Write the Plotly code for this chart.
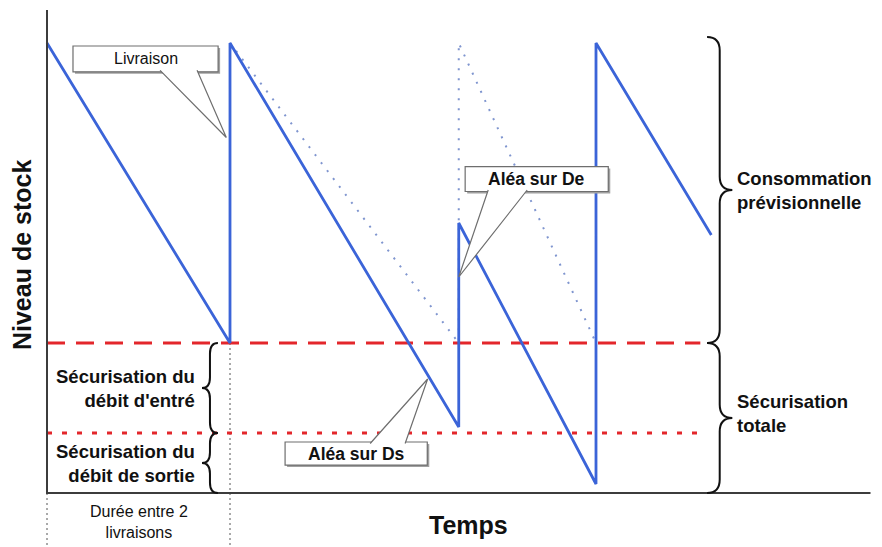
import plotly.graph_objects as go

# --- données (temps en unités arbitraires, niveau de stock en unités) ---
temps_stock = [0, 10, 10, 22.5, 22.5, 30, 30, 36.3]
niveau_stock = [15, 5, 15, 2.2, 9, 0.3, 15, 8.6]

temps_prevu = [10, 22.5, 22.5, 30]
niveau_prevu = [15, 5, 15, 5]

securisation_totale = 5
securisation_sortie = 2
fin_seuils = 35.7

livraisons = [0, 10]
niveau_livraisons = [0, 5]

fin_axe_temps = 45
fin_axe_stock = 16.1

# pixel scale of the drawing
PX_X = 18.3
PX_Y = 30.0
W, H = 882, 547
X0_PX, Y0_PX = 47, 493
x_range = [-X0_PX / PX_X, (W - X0_PX) / PX_X]
y_range = [-(H - Y0_PX) / PX_Y, Y0_PX / PX_Y]
y_bas = y_range[0]

BLUE = "#3b64d8"
RED = "#e3262b"
AXIS = "#3c3c3c"
INK = "#111111"
FONT = "Liberation Sans, Arial, sans-serif"

fig = go.Figure()

# guides under the time axis
for t, v in zip(livraisons, niveau_livraisons):
    fig.add_trace(go.Scatter(
        x=[t, t], y=[v, y_bas], mode="lines",
        line={"color": "#555555", "width": 1, "dash": "2px,3px"},
        hoverinfo="skip",
    ))

# security thresholds
fig.add_trace(go.Scatter(
    x=[0, fin_seuils], y=[securisation_totale] * 2, mode="lines",
    line={"color": RED, "width": 3, "dash": "18px,11px"},
))
fig.add_trace(go.Scatter(
    x=[0, fin_seuils], y=[securisation_sortie] * 2, mode="lines",
    line={"color": RED, "width": 3, "dash": "5px,10px"},
))

# planned consumption (dotted)
fig.add_trace(go.Scatter(
    x=temps_prevu, y=niveau_prevu, mode="lines",
    line={"color": "#7f95cf", "width": 2, "dash": "2px,8px"},
))

# real stock level
fig.add_trace(go.Scatter(
    x=temps_stock, y=niveau_stock, mode="lines",
    line={"color": BLUE, "width": 2.8},
))

# axes
fig.add_trace(go.Scatter(
    x=[0, 0, fin_axe_temps], y=[fin_axe_stock, 0, 0], mode="lines",
    line={"color": AXIS, "width": 2},
))


def brace_path(x_end, x_tip, y0, y1, r):
    xs = (x_end + x_tip) / 2
    ym = (y0 + y1) / 2
    return (
        f"M {x_end},{y0} Q {xs},{y0} {xs},{y0 + r} L {xs},{ym - r} "
        f"Q {xs},{ym} {x_tip},{ym} Q {xs},{ym} {xs},{ym + r} "
        f"L {xs},{y1 - r} Q {xs},{y1} {x_end},{y1}"
    )


shapes = []
brace_line = {"color": INK, "width": 2}
# left braces
shapes.append(dict(type="path", xref="x", yref="y", line=brace_line,
                   path=brace_path(9.34, 8.47, securisation_sortie, securisation_totale, 0.35)))
shapes.append(dict(type="path", xref="x", yref="y", line=brace_line,
                   path=brace_path(9.34, 8.47, 0, securisation_sortie, 0.35)))
# right braces
shapes.append(dict(type="path", xref="x", yref="y", line=brace_line,
                   path=brace_path(36.07, 37.45, securisation_totale, 15.2, 0.45)))
shapes.append(dict(type="path", xref="x", yref="y", line=brace_line,
                   path=brace_path(36.07, 37.45, 0, securisation_totale, 0.45)))

callouts = [
    {"text": "Livraison", "bold": False, "box": (1.42, 9.35, 14.04, 14.9),
     "base": (6.18, 8.2, 14.04), "tip": (9.8, 11.85)},
    {"text": "Aléa sur De", "bold": True, "box": (22.85, 30.67, 10.05, 10.88),
     "base": (24.11, 26.24, 10.05), "tip": (22.5, 7.2)},
    {"text": "Aléa sur Ds", "bold": True, "box": (13.01, 20.78, 0.93, 1.7),
     "base": (17.66, 19.57, 1.7), "tip": (20.8, 3.8)},
]

annotations = []
dx, dy = 2 / PX_X, 2 / PX_Y
for c in callouts:
    x0, x1, y0, y1 = c["box"]
    xa, xb, yb = c["base"]
    xt, yt = c["tip"]
    shapes.append(dict(type="rect", xref="x", yref="y", x0=x0 + dx, x1=x1 + dx,
                       y0=y0 - dy, y1=y1 - dy, fillcolor="#a0a0a0", line={"width": 0}))
    shapes.append(dict(type="rect", xref="x", yref="y", x0=x0, x1=x1, y0=y0, y1=y1,
                       fillcolor="white", line={"color": "#6e6e6e", "width": 1.2}))
    inside = 1.5 / PX_Y if yt < yb else -1.5 / PX_Y
    shapes.append(dict(type="path", xref="x", yref="y", fillcolor="white",
                       line={"color": "#6e6e6e", "width": 1.2},
                       path=f"M {xa},{yb + inside} L {xt},{yt} L {xb},{yb + inside}"))
    label = f"<b>{c['text']}</b>" if c["bold"] else c["text"]
    annotations.append(dict(x=(x0 + x1) / 2, y=(y0 + y1) / 2, xref="x", yref="y",
                            text=label, showarrow=False,
                            font={"size": 16 if not c["bold"] else 17.5, "color": INK}))

text_font = {"family": FONT, "size": 18.5, "color": INK}
annotations += [
    dict(x=-1.37, y=7.93, text="<b>Niveau de stock</b>", textangle=-90,
         font={"family": FONT, "size": 25, "color": INK}),
    dict(x=23.05, y=-1.07, text="<b>Temps</b>",
         font={"family": FONT, "size": 25, "color": INK}),
    dict(x=5, y=-0.97, text="Durée entre 2<br>livraisons",
         font={"family": FONT, "size": 16, "color": INK}),
    dict(x=8.2, y=3.5, text="<b>Sécurisation du<br>débit d'entré</b>",
         xanchor="right", align="right", font=text_font),
    dict(x=8.2, y=1.0, text="<b>Sécurisation du<br>débit de sortie</b>",
         xanchor="right", align="right", font=text_font),
    dict(x=37.6, y=10.1, text="<b>Consommation<br>prévisionnelle</b>",
         xanchor="left", align="left", font=text_font),
    dict(x=37.6, y=2.65, text="<b>Sécurisation<br>totale</b>",
         xanchor="left", align="left", font=text_font),
]
for a in annotations:
    a.setdefault("xref", "x")
    a.setdefault("yref", "y")
    a.setdefault("showarrow", False)

fig.update_layout(
    width=W,
    height=H,
    autosize=False,
    margin={"l": 0, "r": 0, "t": 0, "b": 0},
    showlegend=False,
    plot_bgcolor="white",
    paper_bgcolor="white",
    font={"family": FONT, "color": INK},
    shapes=shapes,
    annotations=annotations,
)
fig.update_xaxes(range=x_range, visible=False, fixedrange=True)
fig.update_yaxes(range=y_range, visible=False, fixedrange=True)

# the page body has a default 8px margin: remove it so the figure fills the window
fig.write_html(
    "out.html",
    config={"displayModeBar": False},
    post_script="document.body.style.margin='0px';",
)
